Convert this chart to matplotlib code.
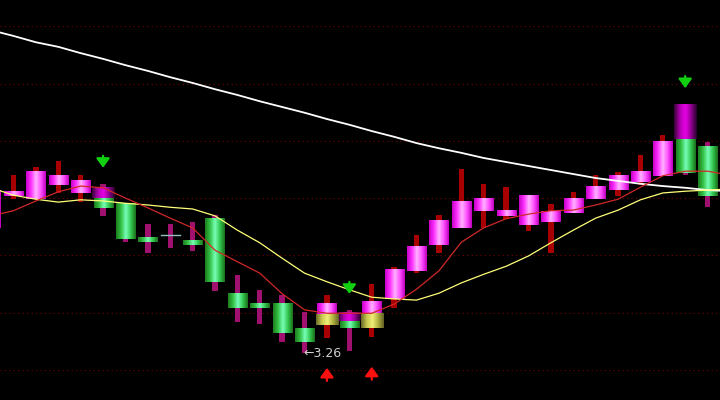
import numpy as np
import matplotlib
matplotlib.use('Agg')
import matplotlib.pyplot as plt
from matplotlib.colors import LinearSegmentedColormap

# K-line data (index -1 is the candle cut off at the left edge)
idx = list(range(-1, 32))
opens = [3.478, 3.534, 3.528, 3.553, 3.539, 3.530, 3.521, 3.460, 3.466, 3.455,
         3.495, 3.364, 3.345, 3.347, 3.302, 3.309, 3.316, 3.303, 3.354, 3.403,
         3.448, 3.478, 3.508, 3.499, 3.483, 3.488, 3.504, 3.528, 3.544, 3.558,
         3.569, 3.633, 3.621]
closes = [3.544, 3.541, 3.576, 3.570, 3.560, 3.513, 3.459, 3.453, 3.466, 3.448,
          3.384, 3.338, 3.338, 3.295, 3.279, 3.347, 3.303, 3.350, 3.406, 3.445,
          3.490, 3.525, 3.530, 3.509, 3.535, 3.506, 3.530, 3.549, 3.570, 3.576,
          3.630, 3.574, 3.534]
highs = [3.544, 3.570, 3.584, 3.595, 3.570, 3.555, 3.521, 3.485, 3.485, 3.488,
         3.501, 3.396, 3.370, 3.361, 3.331, 3.361, 3.335, 3.380, 3.410, 3.466,
         3.501, 3.581, 3.555, 3.549, 3.535, 3.520, 3.541, 3.570, 3.576, 3.605,
         3.640, 3.694, 3.628]
lows = [3.478, 3.528, 3.528, 3.539, 3.523, 3.499, 3.453, 3.434, 3.443, 3.438,
        3.368, 3.314, 3.310, 3.279, 3.260, 3.286, 3.263, 3.288, 3.338, 3.399,
        3.434, 3.478, 3.478, 3.494, 3.473, 3.434, 3.504, 3.528, 3.534, 3.553,
        3.569, 3.570, 3.514]

# signal overlays
purple_idx = [4, 15, 30]
purple_top = [3.549, 3.330, 3.694]
purple_bot = [3.530, 3.316, 3.633]
yellow_idx = [14, 16]
yellow_top = [3.328, 3.328]
yellow_bot = [3.309, 3.303]
sell_idx = [4, 15, 30]
buy_idx = [14, 16]
low_idx, low_val = 13, 3.26

# moving averages, x = -1 .. 32
ma_x = list(range(-1, 33))
ma_white = [3.823, 3.813, 3.802, 3.794, 3.783, 3.773, 3.762, 3.752, 3.741, 3.731,
            3.720, 3.710, 3.699, 3.689, 3.679, 3.668, 3.658, 3.647, 3.637, 3.626,
            3.617, 3.609, 3.600, 3.593, 3.586, 3.579, 3.572, 3.565, 3.560, 3.555,
            3.551, 3.548, 3.544, 3.542]
ma_yellow = [3.548, 3.535, 3.528, 3.523, 3.527, 3.525, 3.521, 3.518, 3.514, 3.511,
             3.499, 3.474, 3.452, 3.425, 3.399, 3.384, 3.370, 3.357, 3.354, 3.352,
             3.364, 3.382, 3.397, 3.411, 3.429, 3.452, 3.474, 3.495, 3.509, 3.527,
             3.539, 3.542, 3.544, 3.546]
ma_red = [3.499, 3.508, 3.525, 3.541, 3.551, 3.548, 3.530, 3.513, 3.495, 3.478,
          3.439, 3.419, 3.399, 3.363, 3.335, 3.329, 3.329, 3.329, 3.345, 3.371,
          3.403, 3.453, 3.478, 3.494, 3.502, 3.508, 3.509, 3.518, 3.528, 3.549,
          3.569, 3.577, 3.577, 3.570]

grid_levels = [3.23, 3.33, 3.43, 3.53, 3.63, 3.73, 3.83]

cm_up = LinearSegmentedColormap.from_list('up', ['#c800c8', '#ff30ff', '#ffb4ff', '#ff50ff', '#c000c0'])
cm_dn = LinearSegmentedColormap.from_list('dn', ['#1e7e1e', '#34c044', '#78ffb8', '#34c850', '#1a701a'])
cm_pu = LinearSegmentedColormap.from_list('pu', ['#380038', '#b000b0', '#e800e8', '#900090', '#280028'])
cm_ye = LinearSegmentedColormap.from_list('ye', ['#6a6a28', '#c8c850', '#f0f078', '#b0b040', '#606024'])
grad = np.linspace(0, 1, 64).reshape(1, -1)

PX = 0.1 / 57.3  # price per pixel
BODY_W = 0.85
WICK_W = 0.24
ARROW = dict(arrowstyle='-|>,head_width=0.4,head_length=0.55', lw=1.6,
             shrinkA=0, shrinkB=0, mutation_scale=10)


def gbar(ax, x, lo, hi, w, cmap, z=3):
    ax.imshow(grad, cmap=cmap, extent=(x - w / 2, x + w / 2, lo, hi),
              aspect='auto', interpolation='bilinear', zorder=z)


fig = plt.figure(figsize=(7.2, 4.0), dpi=100, facecolor='black')
ax = fig.add_axes([0, 0, 1, 1])
ax.set_facecolor('black')

for g in grid_levels:
    ax.axhline(g, color='#7a0000', lw=0.8, ls=(0, (1, 3)), zorder=1)

for i, o, c, h, l in zip(idx, opens, closes, highs, lows):
    up = c > o
    wick_c = '#a80000' if up else '#a0106e'
    ax.bar(i, h - l, bottom=l, width=WICK_W, color=wick_c, zorder=2)
    if c == o:
        ax.plot([i - BODY_W / 2, i + BODY_W / 2], [o, o], color='#90c0c0', lw=1, zorder=3)
    else:
        gbar(ax, i, min(o, c), max(o, c), BODY_W, cm_up if up else cm_dn)

for i, t, b in zip(purple_idx, purple_top, purple_bot):
    gbar(ax, i, b, t, 1.0, cm_pu, z=4)
for i, t, b in zip(yellow_idx, yellow_top, yellow_bot):
    gbar(ax, i, b, t, 1.0, cm_ye, z=4)

ax.plot(ma_x, ma_white, color='white', lw=1.3, zorder=5)
ax.plot(ma_x, ma_yellow, color='#ffff78', lw=0.9, zorder=5)
ax.plot(ma_x, ma_red, color='#d02828', lw=0.9, zorder=5)

for i in sell_idx:
    h = highs[idx.index(i)]
    ax.annotate('', xy=(i, h + 16 * PX), xytext=(i, h + 28 * PX),
                arrowprops=dict(color='#10d010', **ARROW), zorder=6)
for i in buy_idx:
    l = lows[idx.index(i)]
    ax.annotate('', xy=(i, l - 30 * PX), xytext=(i, l - 43 * PX),
                arrowprops=dict(color='#ff1010', **ARROW), zorder=6)

ax.text(low_idx - 0.07, low_val - 1 * PX, '\u2190' + f'{low_val:.2f}', color='#d0d0d0',
        fontsize=9, ha='left', va='center', zorder=6)

ax.set_xlim(-13.5 / 22.39, (720 - 13.5) / 22.39)
ax.set_ylim(3.23 - 30 * PX, 3.23 + 370 * PX)
ax.set_xticks([])
ax.set_yticks([])
for s in ax.spines.values():
    s.set_visible(False)

fig.savefig('out.png', dpi=100, facecolor='black')
